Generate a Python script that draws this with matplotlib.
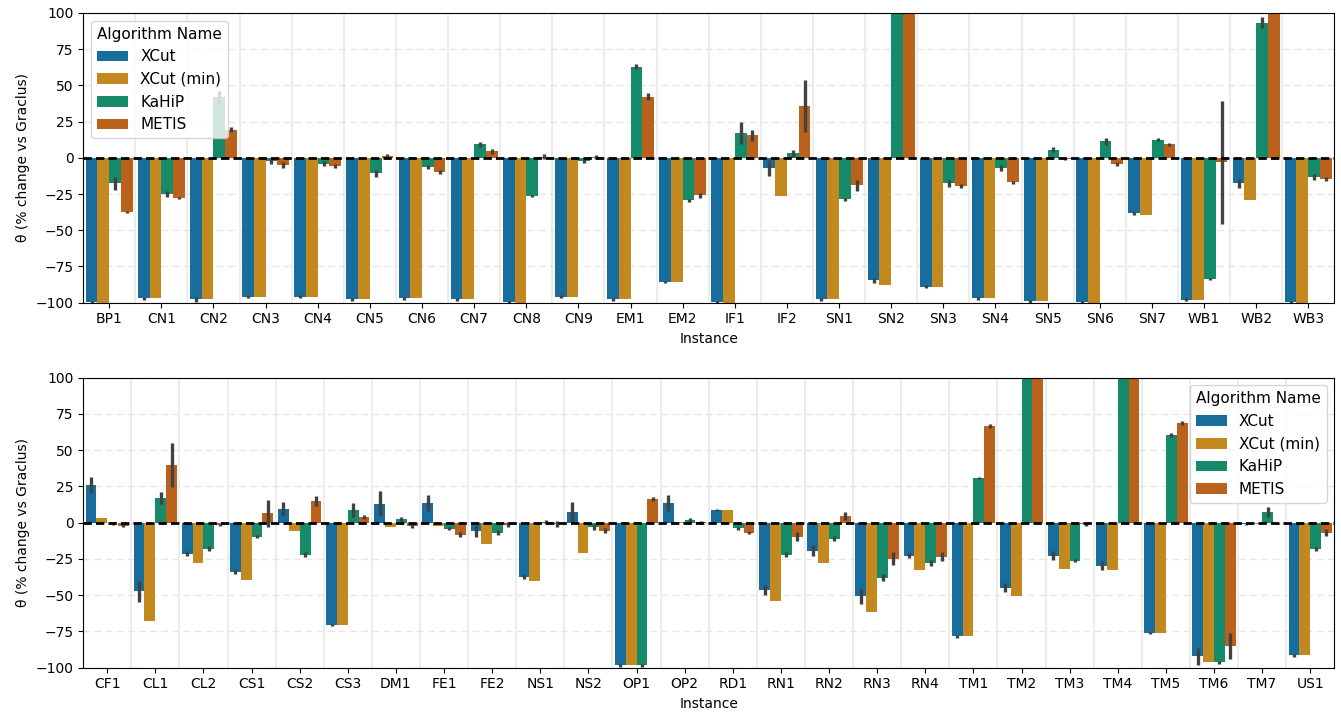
import numpy as np
import matplotlib
matplotlib.use("Agg")
import matplotlib.pyplot as plt
import seaborn as sns

# Instances
inst_top = ["BP1", "CN1", "CN2", "CN3", "CN4", "CN5", "CN6", "CN7", "CN8", "CN9", "EM1", "EM2",
            "IF1", "IF2", "SN1", "SN2", "SN3", "SN4", "SN5", "SN6", "SN7", "WB1", "WB2", "WB3"]
inst_bot = ["CF1", "CL1", "CL2", "CS1", "CS2", "CS3", "DM1", "FE1", "FE2", "NS1", "NS2", "OP1", "OP2",
            "RD1", "RN1", "RN2", "RN3", "RN4", "TM1", "TM2", "TM3", "TM4", "TM5", "TM6", "TM7", "US1"]

algos = ["XCut", "XCut (min)", "KaHiP", "METIS"]

# Top panel values (% change vs Graclus), error half-widths
xcut_top = [-99.8, -96.8, -97.7, -96, -96, -97.5, -96.8, -97.5, -99.5, -96, -97.7, -85.7,
            -99.8, -7.1, -97.7, -84.6, -89, -96.8, -98.9, -99.8, -38.2, -97.9, -17.5, -99.5]
xcut_err_top = [1, 1, 1.5, 1, 1, 1, 1, 1, 1, 1, 1, 1, 1, 5.5, 1, 1.5, 1, 1, 1, 1, 1, 1.2, 3, 1]
xmin_top = [-100, -96.8, -97.7, -96, -96, -97.5, -96.8, -97.5, -100, -96, -97.7, -85.7,
            -100, -26.7, -97.7, -88, -89, -96.8, -98.9, -100, -39.8, -97.9, -29.4, -100]
kahip_top = [-17.5, -24.8, 41.8, -2.3, -4, -10.6, -6.4, 9.2, -26.4, -2.3, 63, -29.4,
             16.8, 3, -28.7, 130, -17.5, -7.1, 5.7, 11.3, 12.6, -83.7, 93.3, -13.3]
kahip_err_top = [4.5, 2.2, 4.5, 2, 1.5, 2.5, 1.5, 1.5, 1, 1.5, 1.8, 1.2,
                 7.6, 2.6, 1.2, 0, 2.5, 2, 1.8, 2.2, 1.2, 0.8, 4, 2.2]
metis_top = [-37.5, -27.8, 19.5, -5, -5.7, 1.5, -10, 4.4, 0.8, 0.5, 42.3, -26,
             15.4, 36, -19, 130, -19.5, -16.8, -1, -4.4, 9.2, -3, 130, -14.7]
metis_err_top = [0.8, 0.8, 1.8, 1.8, 1.5, 1.2, 1.5, 1.5, 1.5, 1.5, 2.2, 1.5,
                 3.5, 18, 3.8, 0, 1.2, 1, 0.8, 1.2, 0.8, 42.5, 0, 1.2]

# Bottom panel
xcut_bot = [26, -47.5, -21.4, -33.8, 9.4, -70.5, 12.9, 13.5, -5.7, -37.2, 7.3, -98.5, 13.5,
            8.7, -46.4, -19.3, -50.9, -22.7, -78.5, -44.8, -22.7, -29.6, -76.2, -92.3, -1.1, -91.6]
xcut_err_bot = [5.8, 7.2, 1.5, 1.5, 5, 0.8, 8.6, 5.4, 4, 1.6, 7.2, 1, 5.4,
                1, 3.5, 3.6, 5, 2, 0.8, 3, 3, 3, 1, 5.8, 0.5, 1]
xmin_bot = [3.2, -68.2, -27.6, -39.3, -5.5, -70.5, -2.8, -2, -14.5, -40.6, -20.7, -98.5, 0.3,
            8.7, -54.4, -27.6, -62, -32.6, -78.5, -50.3, -31.7, -32.6, -76.2, -96.4, -0.9, -91.6]
kahip_bot = [-0.5, 17, -17.9, -9.6, -22, 8.7, 2.5, -4.1, -6.9, 0.5, -3.2, -98.5, 1.8,
             -3.9, -22, -11, -37.9, -27.6, 31, 130, -26.2, 130, 60.4, -96.4, 7.1, -18.1]
kahip_err_bot = [1, 4, 1.5, 1, 2, 4.6, 1.5, 1.2, 1.5, 1.6, 2, 1, 1.5,
                 1, 1.8, 1.6, 2.5, 2, 0.8, 0, 1, 0, 1.4, 1, 3.4, 1.5]
metis_bot = [-2, 39.7, -1.6, 6.4, 15, 3.9, -2.3, -8.3, -1.3, -1, -5.5, 16.3, 0.3,
             -6.9, -9.6, 4.6, -24.8, -23.4, 66.6, 130, -1.1, 130, 68.9, -85.4, -0.5, -6.9]
metis_err_bot = [1.2, 15, 0.8, 9.2, 3.4, 1.2, 1.5, 1.5, 2, 2, 1.5, 1.5, 1,
                 1, 2.8, 3, 4.4, 3, 1.5, 0, 1, 0, 1.5, 9, 0.5, 2.5]

yticks = [-100, -75, -50, -25, 0, 25, 50, 75, 100]

colors = [sns.desaturate(c, 0.75) for c in sns.color_palette("colorblind")[:4]]


def draw_panel(ax, names, series, errs, legend_loc):
    x = np.arange(len(names))
    width = 0.9 / 4
    for i, (vals, err) in enumerate(zip(series, errs)):
        pos = x - 0.45 + width * (i + 0.5)
        ax.bar(pos, vals, width=width, color=colors[i], label=algos[i], zorder=2)
        if err is not None:
            ax.errorbar(pos, vals, yerr=err, fmt="none", ecolor="#424242",
                        elinewidth=2.4, capsize=0, zorder=3)
    ax.axhline(0, color="black", linestyle=(0, (3, 1.5)), linewidth=2, zorder=4)
    ax.set_xlim(-0.5, len(names) - 0.5)
    ax.set_ylim(-100, 100)
    ax.set_yticks(yticks)
    ax.set_xticks(x)
    ax.set_xticklabels(names)
    ax.set_xticks(x[:-1] + 0.5, minor=True)
    ax.tick_params(axis="x", which="minor", length=0)
    ax.grid(axis="y", which="major", linestyle=(0, (5, 3)), color="#e6e6e6", linewidth=1, zorder=0)
    ax.grid(axis="x", which="minor", linestyle="-", color="#ededed", linewidth=1.5, zorder=0)
    ax.set_axisbelow(True)
    ax.set_xlabel("Instance")
    ax.set_ylabel("θ (% change vs Graclus)")
    ax.legend(title="Algorithm Name", loc=legend_loc, fontsize=11, title_fontsize=11)


fig, (ax1, ax2) = plt.subplots(2, 1, figsize=(13.41, 7.17), dpi=100)
fig.subplots_adjust(left=0.062, right=0.995, top=0.982, bottom=0.069, hspace=0.259)

draw_panel(ax1, inst_top, [xcut_top, xmin_top, kahip_top, metis_top],
           [xcut_err_top, None, kahip_err_top, metis_err_top], "upper left")
draw_panel(ax2, inst_bot, [xcut_bot, xmin_bot, kahip_bot, metis_bot],
           [xcut_err_bot, None, kahip_err_bot, metis_err_bot], "upper right")

fig.savefig("out.png", dpi=100)
